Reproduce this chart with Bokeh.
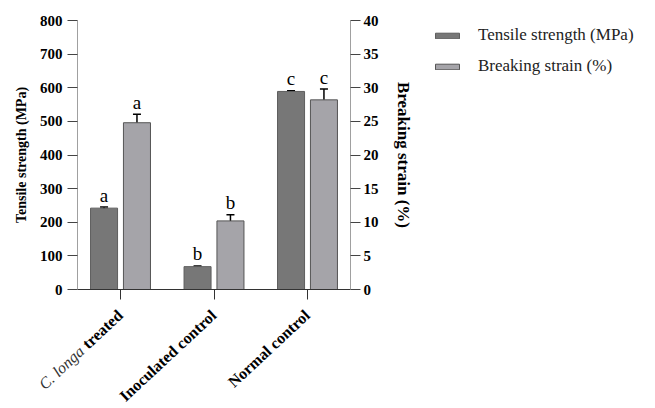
import math
from bokeh.plotting import figure
from bokeh.models import (Range1d, LinearAxis, SingleIntervalTicker, FixedTicker,
                          ColumnDataSource, Whisker, TeeHead, Legend, LegendItem, Label)
from bokeh.core.properties import value
from bokeh.embed import file_html
from bokeh.resources import INLINE

# ---- data ----
cat_italic = ["C. longa", "", ""]
cat_bold = ["treated", "Inoculated control", "Normal control"]
tensile = [242, 68, 589]          # MPa
tensile_err = [3, 2, 2]
strain = [24.8, 10.2, 28.2]       # %
strain_err = [1.25, 0.9, 1.6]
tensile_letters = ["a", "b", "c"]
strain_letters = ["a", "b", "c"]
T_MAX, S_MAX = 800, 40

SERIF = "Liberation Serif"
W, H = 650, 406
# plot area in canvas px: left, right, top, bottom
PL, PR, PT, PB = 77, 350, 20, 289
X0, X1 = 0.04, 2.96

sx = (PR - PL) / (X1 - X0)
sy_t = (PB - PT) / T_MAX
sy_s = (PB - PT) / S_MAX

n = len(cat_bold)
xc = [i + 0.5 for i in range(n)]
off = 0.176
bw = 0.289
x_dark = [x - off for x in xc]
x_light = [x + off for x in xc]

p = figure(width=W, height=H, output_backend="svg", toolbar_location=None,
           x_range=Range1d(X0 - PL / sx, X0 + (W - PL) / sx),
           y_range=Range1d(-(H - PB) / sy_t, T_MAX + PT / sy_t),
           min_border=0, x_axis_type=None, y_axis_type=None)
p.outline_line_color = None
p.extra_y_ranges = {"right": Range1d(-(H - PB) / sy_s, S_MAX + PT / sy_s)}

src_t = ColumnDataSource(dict(x=x_dark, top=tensile,
                              up=[v + e for v, e in zip(tensile, tensile_err)],
                              lo=[v - e for v, e in zip(tensile, tensile_err)],
                              lab=tensile_letters))
src_s = ColumnDataSource(dict(x=x_light, top=strain,
                              up=[v + e for v, e in zip(strain, strain_err)],
                              lo=[v - e for v, e in zip(strain, strain_err)],
                              lab=strain_letters))

r1 = p.vbar(x="x", top="top", bottom=0, width=bw, source=src_t, fill_color="#777777",
            line_color="#5e5e5e", line_width=1)
r2 = p.vbar(x="x", top="top", bottom=0, width=bw, source=src_s, fill_color="#a5a4a9",
            line_color="#555555", line_width=1, y_range_name="right")

def head():
    return TeeHead(size=8, line_color="black", line_width=1.5)

p.add_layout(Whisker(source=src_t, base="x", upper="up", lower="lo", line_color="black",
                     line_width=1.5, upper_head=head(), lower_head=head()))
p.add_layout(Whisker(source=src_s, base="x", upper="up", lower="lo", line_color="black",
                     line_width=1.5, y_range_name="right", upper_head=head(), lower_head=head()))

p.text(x="x", y="up", text="lab", source=src_t, text_align="center", text_baseline="alphabetic",
       y_offset=-12, text_font=value(SERIF), text_font_size="19px", text_color="black")
p.text(x="x", y="up", text="lab", source=src_s, text_align="center", text_baseline="alphabetic",
       y_offset=-12, text_font=value(SERIF), text_font_size="19px", text_color="black",
       y_range_name="right")

# ---- axes (fixed at the plot-area edges) ----
bx = LinearAxis(ticker=FixedTicker(ticks=xc), fixed_location=0, bounds=(X0, X1),
                major_label_overrides={x: "" for x in xc}, major_label_text_font_size="0px")
bx.axis_line_color = "#333333"
bx.major_tick_line_color = "#333333"
bx.major_tick_out = 10
bx.major_tick_in = 0
bx.minor_tick_line_color = None
p.add_layout(bx, "below")

ly = LinearAxis(ticker=SingleIntervalTicker(interval=100), fixed_location=X0,
                bounds=(0, T_MAX), axis_label="Tensile strength (MPa)")
p.add_layout(ly, "left")
ry = LinearAxis(y_range_name="right", ticker=SingleIntervalTicker(interval=5),
                fixed_location=X1, bounds=(0, S_MAX), axis_label="Breaking strain (%)")
p.add_layout(ry, "right")

for a, st, ls, fs in ((ly, 5, 8, "14px"), (ry, 3, 12, "17px")):
    a.axis_line_color = "#a0a0a0"
    a.major_tick_line_color = "#444444"
    a.major_tick_out = 10
    a.major_tick_in = 0
    a.minor_tick_line_color = None
    a.major_label_text_font = SERIF
    a.major_label_text_font_style = "bold"
    a.major_label_text_font_size = "15px"
    a.major_label_text_color = "black"
    a.major_label_standoff = st
    a.axis_label_text_font = SERIF
    a.axis_label_text_font_style = "bold"
    a.axis_label_text_font_size = fs
    a.axis_label_text_color = "black"
    a.axis_label_standoff = ls

# ---- legend ----
legend = Legend(items=[LegendItem(label="Tensile strength (MPa)", renderers=[r1]),
                       LegendItem(label="Breaking strain (%)", renderers=[r2])],
                location=(432, H - 25 - 51), orientation="vertical",
                glyph_width=30, glyph_height=7, label_height=20, label_standoff=16,
                spacing=11, padding=0, margin=0,
                label_text_font=SERIF, label_text_font_size="17px", label_text_color="#222222",
                background_fill_alpha=0, border_line_color=None)
p.add_layout(legend, "center")

# ---- rotated category labels ----
ang = math.radians(43)
back = 53
ax0, ay0 = -6, -17
for i in range(n):
    p.add_layout(Label(x=xc[i], y=0, x_offset=ax0, y_offset=ay0, text=cat_bold[i],
                       angle=ang, text_align="right", text_baseline="top",
                       text_font=SERIF, text_font_style="bold", text_font_size="16px",
                       text_color="black"))
    if cat_italic[i]:
        p.add_layout(Label(x=xc[i], y=0, x_offset=ax0 - back * math.cos(ang),
                           y_offset=ay0 - back * math.sin(ang),
                           text=cat_italic[i], angle=ang, text_align="right",
                           text_baseline="top", text_font=SERIF, text_font_style="italic",
                           text_font_size="16px", text_color="#333333"))

open("out.html", "w").write(file_html(p, INLINE))
